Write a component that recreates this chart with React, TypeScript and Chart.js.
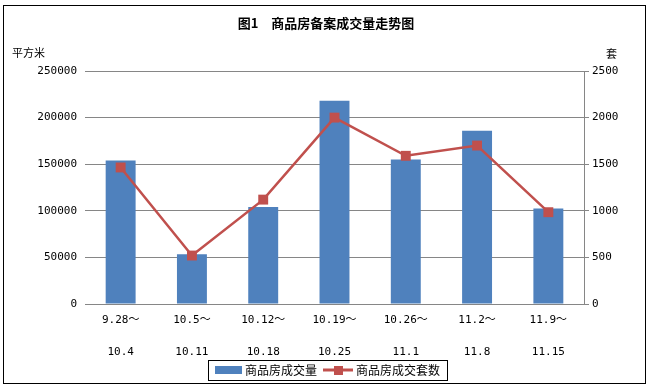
import React, { useEffect, useRef } from "react";
import { Chart, registerables } from "chart.js";

Chart.register(...registerables);

const rangeStarts = ["9.28～", "10.5～", "10.12～", "10.19～", "10.26～", "11.2～", "11.9～"];
const rangeEnds = ["10.4", "10.11", "10.18", "10.25", "11.1", "11.8", "11.15"];
const areaValues = [154000, 53500, 104000, 218000, 155000, 186000, 102500];
const unitValues = [1465, 520, 1120, 2000, 1590, 1700, 985];
const areaLabel = "商品房成交量";
const unitLabel = "商品房成交套数";
const titleText = "图1　商品房备案成交量走势图";
const leftAxisTitle = "平方米";
const rightAxisTitle = "套";

const BAR_COLOR = "#4F81BD";
const LINE_COLOR = "#C0504D";
const GRID_COLOR = "#868686";
const CJK = "'Noto Sans CJK SC', sans-serif";
const NUM = "'DejaVu Sans Mono', 'Noto Sans CJK SC', monospace";

const decorPlugin = {
  id: "decor",
  afterDraw(chart: any) {
    const ctx = chart.ctx;
    ctx.save();
    // outer border
    ctx.strokeStyle = "#000";
    ctx.lineWidth = 1;
    ctx.strokeRect(3.5, 5.5, 642, 378);
    // title
    ctx.fillStyle = "#000";
    ctx.textAlign = "center";
    ctx.textBaseline = "middle";
    ctx.font = "bold 13px " + CJK;
    ctx.fillText(titleText, 326, 23);
    // axis titles
    ctx.font = "11px " + CJK;
    ctx.textAlign = "left";
    ctx.fillText(leftAxisTitle, 12, 53);
    ctx.fillText(rightAxisTitle, 606, 54);
    // legend
    const ds = chart.data.datasets;
    ctx.strokeRect(208.5, 360.5, 239, 20);
    ctx.fillStyle = ds[0].backgroundColor;
    ctx.fillRect(215, 366, 27, 8);
    ctx.fillStyle = "#000";
    ctx.font = "12px " + CJK;
    ctx.fillText(ds[0].label, 245, 370.5);
    ctx.strokeStyle = ds[1].borderColor;
    ctx.lineWidth = 3;
    ctx.beginPath();
    ctx.moveTo(323, 370);
    ctx.lineTo(353, 370);
    ctx.stroke();
    ctx.fillStyle = ds[1].borderColor;
    ctx.fillRect(334, 366, 9, 9);
    ctx.fillStyle = "#000";
    ctx.fillText(ds[1].label, 356, 370.5);
    ctx.restore();
  },
};

export default function App() {
  const ref = useRef<HTMLCanvasElement | null>(null);
  useEffect(() => {
    if (!ref.current) return;
    const labels = rangeStarts.map((s, i) => [s, rangeEnds[i]]);
    const chart = new Chart(ref.current, {
      type: "bar",
      data: {
        labels,
        datasets: [
          {
            type: "bar",
            label: areaLabel,
            data: areaValues,
            backgroundColor: BAR_COLOR,
            yAxisID: "y",
            categoryPercentage: 1,
            barPercentage: 0.42,
            order: 1,
          } as any,
          {
            type: "line",
            label: unitLabel,
            data: unitValues,
            borderColor: LINE_COLOR,
            backgroundColor: LINE_COLOR,
            borderWidth: 2.5,
            pointStyle: "rect",
            pointRadius: 7,
            pointBackgroundColor: LINE_COLOR,
            pointBorderColor: LINE_COLOR,
            pointBorderWidth: 0,
            yAxisID: "y1",
            order: 0,
          } as any,
        ],
      },
      options: {
        responsive: false,
        animation: false,
        devicePixelRatio: 1,
        layout: { padding: { top: 71, left: 0, right: 0, bottom: 0 } },
        plugins: {
          legend: { display: false },
          title: { display: false },
          tooltip: { enabled: false },
        },
        scales: {
          x: {
            grid: { display: false, drawTicks: false },
            border: { display: true, color: GRID_COLOR, width: 1 },
            ticks: {
              color: "#000",
              padding: 0,
              maxRotation: 0,
              autoSkip: false,
              font: { family: NUM, size: 11, lineHeight: "32px" } as any,
            },
            afterFit: (s: any) => {
              s.height = 85;
            },
          },
          y: {
            position: "left",
            min: 0,
            max: 250000,
            ticks: {
              stepSize: 50000,
              color: "#000",
              padding: 8,
              font: { family: NUM, size: 11 },
              callback: (v: any) => String(v),
            },
            grid: { color: GRID_COLOR, drawTicks: false, lineWidth: 1 },
            border: { display: false },
            afterFit: (s: any) => {
              s.width = 85;
            },
          },
          y1: {
            position: "right",
            min: 0,
            max: 2500,
            ticks: {
              stepSize: 500,
              color: "#000",
              padding: 3,
              font: { family: NUM, size: 11 },
              callback: (v: any) => String(v),
            },
            grid: {
              display: true,
              drawOnChartArea: false,
              drawTicks: true,
              tickLength: 5,
              color: GRID_COLOR,
            },
            border: { display: true, color: GRID_COLOR, width: 1 },
            afterFit: (s: any) => {
              s.width = 67;
            },
          },
        },
      } as any,
      plugins: [decorPlugin],
    });
    return () => chart.destroy();
  }, []);
  return (
    <div style={{ position: "absolute", left: 0, top: 0, width: 651, height: 389, background: "#fff" }}>
      <canvas ref={ref} width={651} height={389} style={{ width: 651, height: 389, display: "block" }} />
    </div>
  );
}
